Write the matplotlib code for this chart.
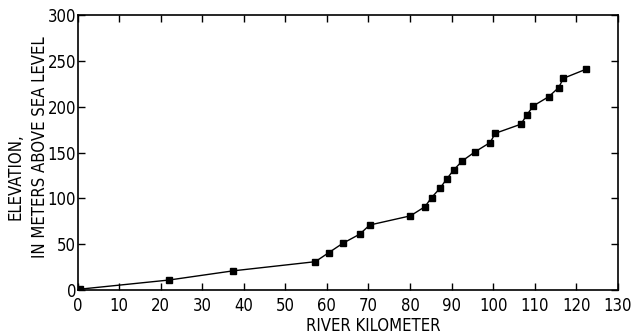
import matplotlib
matplotlib.use("Agg")
import matplotlib.pyplot as plt
from matplotlib import font_manager

# river profile: kilometer vs elevation (m above sea level)
river_km = [0.5, 22.0, 37.4, 57.2, 60.5, 63.8, 67.9, 70.3, 80.1, 83.6, 85.2, 87.2,
            88.8, 90.5, 92.6, 95.7, 99.3, 100.5, 106.7, 108.1, 109.7, 113.4,
            115.8, 116.9, 122.4]
elevation_m = [1, 11, 21, 31, 41, 51, 61, 71, 81, 91, 101, 111,
               121, 131, 141, 151, 161, 171, 181, 191, 201, 211,
               221, 231, 241]

x_ticks = list(range(0, 131, 10))
y_ticks = list(range(0, 301, 50))

# narrow sans if we have one
names = {f.name for f in font_manager.fontManager.ttflist}
if 'Liberation Sans Narrow' in names:
    plt.rcParams['font.family'] = ['Liberation Sans Narrow', 'DejaVu Sans']
else:
    plt.rcParams['font.family'] = ['DejaVu Sans']
    plt.rcParams['font.stretch'] = 'condensed'

fig = plt.figure(figsize=(6.31, 3.35), dpi=100)
ax = fig.add_axes([0.123, 0.134, 0.856, 0.821])

ax.plot(river_km, elevation_m, color='black', linewidth=1.0,
        marker='s', markersize=4.5)

ax.set_xlim(0, 130)
ax.set_ylim(0, 300)
ax.set_xticks(x_ticks)
ax.set_yticks(y_ticks)
ax.tick_params(direction='in', top=True, right=True, length=5, width=1,
               labelsize=12, colors='black')
ax.tick_params(axis='x', pad=5)
ax.tick_params(axis='y', pad=1)
for side in ax.spines.values():
    side.set_linewidth(1.2)

ax.set_xlabel("RIVER KILOMETER", fontsize=12)
ax.xaxis.set_label_coords(0.548, -0.096, transform=ax.transAxes)
ax.xaxis.label.set_va('top')

# y label: two lines, placed separately like the original
fig.text(15 / 631, 1 - 177 / 335, "ELEVATION,", rotation=90, fontsize=12,
         ha='center', va='center')
fig.text(40 / 631, 1 - 147 / 335, "IN METERS ABOVE SEA LEVEL", rotation=90,
         fontsize=12, ha='center', va='center')

fig.savefig("out.png", dpi=100)
